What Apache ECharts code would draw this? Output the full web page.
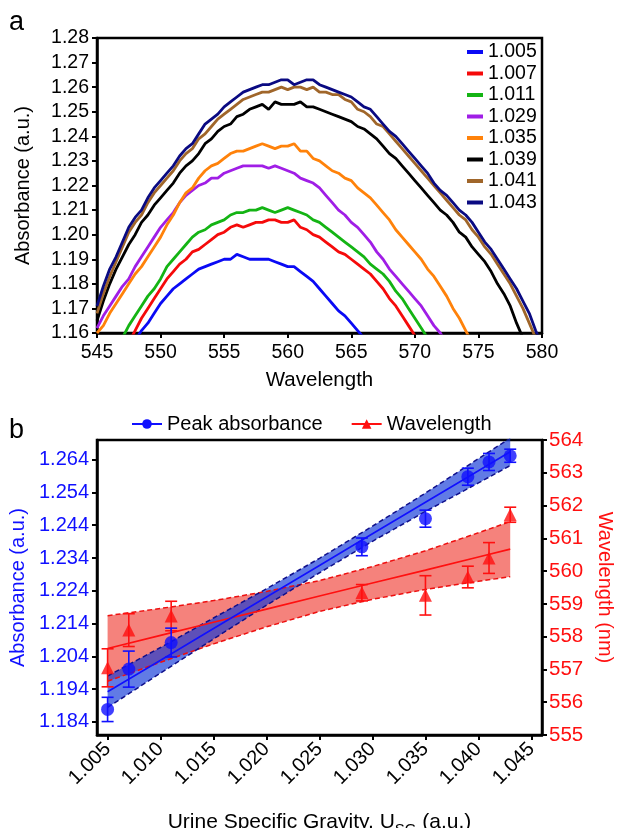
<!DOCTYPE html>
<html><head><meta charset="utf-8">
<script src="https://cdn.jsdelivr.net/npm/echarts@6/dist/echarts.min.js"></script>
<style>html,body{margin:0;padding:0;background:#fff}#c{width:618px;height:828px}</style>
</head><body><div id="c"></div>
<script>
// ---------- Panel a data (0.5 nm grid, 545..580) ----------
const wavelengths = Array.from({ length: 71 }, (_, i) => 545 + i * 0.5);
const sgNames = ['1.005','1.007','1.011','1.029','1.035','1.039','1.041','1.043'];
const abs1005 = [null,null,null,null,null,null,1.157,1.161,1.164,1.168,1.172,1.175,1.178,1.180,1.182,1.184,1.186,1.187,1.188,1.189,1.190,1.190,1.192,1.191,1.190,1.190,1.190,1.190,1.189,1.188,1.187,1.187,1.185,1.183,1.181,1.178,1.175,1.172,1.169,1.167,1.164,1.161,1.158];
const abs1007 = [null,null,null,null,null,1.156,1.161,1.166,1.170,1.174,1.178,1.182,1.185,1.188,1.190,1.193,1.194,1.196,1.198,1.200,1.201,1.203,1.204,1.203,1.204,1.205,1.205,1.206,1.206,1.205,1.205,1.206,1.203,1.202,1.200,1.199,1.197,1.195,1.193,1.192,1.190,1.188,1.186,1.184,1.181,1.178,1.174,1.171,1.167,1.163,1.159,1.155];
const abs1011 = [null,null,null,null,1.158,1.163,1.167,1.171,1.175,1.178,1.182,1.187,1.190,1.193,1.196,1.199,1.201,1.202,1.204,1.205,1.206,1.208,1.209,1.209,1.210,1.210,1.211,1.210,1.209,1.210,1.211,1.210,1.209,1.208,1.206,1.205,1.203,1.201,1.199,1.197,1.195,1.193,1.191,1.188,1.186,1.184,1.181,1.177,1.174,1.170,1.166,1.162,1.158,1.154];
const abs1029 = [1.162,1.167,1.171,1.175,1.179,1.182,1.187,1.191,1.195,1.199,1.203,1.206,1.209,1.213,1.216,1.218,1.220,1.221,1.223,1.223,1.225,1.226,1.227,1.228,1.228,1.228,1.228,1.227,1.228,1.227,1.226,1.225,1.223,1.222,1.221,1.219,1.216,1.213,1.210,1.208,1.205,1.203,1.200,1.197,1.193,1.190,1.186,1.183,1.180,1.177,1.174,1.171,1.167,1.163,1.160,1.156];
const abs1035 = [1.160,1.163,1.168,1.172,1.176,1.180,1.184,1.187,1.191,1.195,1.199,1.204,1.208,1.213,1.217,1.219,1.223,1.226,1.228,1.229,1.231,1.233,1.234,1.234,1.235,1.236,1.237,1.236,1.235,1.236,1.236,1.237,1.234,1.234,1.231,1.230,1.228,1.226,1.225,1.223,1.222,1.219,1.217,1.215,1.212,1.209,1.206,1.202,1.199,1.196,1.193,1.190,1.186,1.183,1.179,1.175,1.170,1.166,1.161,1.156];
const abs1039 = [1.165,1.173,1.180,1.186,1.191,1.196,1.200,1.205,1.208,1.212,1.215,1.218,1.221,1.225,1.228,1.230,1.233,1.237,1.239,1.242,1.244,1.245,1.248,1.249,1.251,1.252,1.253,1.251,1.254,1.253,1.253,1.253,1.254,1.252,1.252,1.251,1.250,1.249,1.248,1.247,1.246,1.244,1.243,1.241,1.239,1.236,1.233,1.231,1.228,1.225,1.222,1.219,1.216,1.213,1.210,1.208,1.205,1.201,1.199,1.195,1.192,1.189,1.185,1.180,1.176,1.171,1.164,1.158,1.150];
const abs1041 = [1.168,1.176,1.183,1.189,1.195,1.201,1.205,1.208,1.213,1.217,1.220,1.223,1.226,1.230,1.233,1.235,1.239,1.241,1.244,1.247,1.249,1.251,1.253,1.255,1.256,1.257,1.258,1.258,1.259,1.260,1.259,1.260,1.260,1.259,1.260,1.258,1.258,1.257,1.257,1.255,1.254,1.251,1.250,1.248,1.245,1.244,1.241,1.238,1.235,1.232,1.229,1.226,1.223,1.220,1.217,1.214,1.211,1.208,1.206,1.202,1.199,1.195,1.192,1.188,1.184,1.180,1.175,1.170,1.164,1.158,1.152];
const abs1043 = [1.171,1.179,1.186,1.191,1.197,1.203,1.207,1.210,1.215,1.219,1.222,1.225,1.228,1.232,1.235,1.237,1.241,1.245,1.247,1.249,1.252,1.254,1.256,1.258,1.259,1.260,1.261,1.261,1.262,1.263,1.263,1.261,1.262,1.263,1.263,1.261,1.260,1.259,1.258,1.257,1.256,1.254,1.252,1.251,1.248,1.245,1.242,1.240,1.237,1.234,1.231,1.228,1.225,1.221,1.218,1.216,1.213,1.210,1.208,1.205,1.201,1.197,1.194,1.190,1.186,1.182,1.178,1.173,1.168,1.161,1.155];
const curveColors = ['#0a0af5','#f50a0a','#14b414','#a01ee6','#ff820a','#000000','#a0662a','#0a0a82'];

// ---------- Panel b data ----------
const sgValues = [1.005,1.007,1.011,1.029,1.035,1.039,1.041,1.043];
const peakAbs = [1.1878,1.2001,1.2082,1.2374,1.2460,1.2588,1.2633,1.2652];
const peakAbsErr = [0.0037,0.0055,0.0044,0.0027,0.0026,0.0026,0.0026,0.0020];
const peakWl = [557.05,558.20,558.63,559.34,559.26,559.82,560.40,561.72];
const peakWlErr = [0.58,0.50,0.45,0.25,0.60,0.33,0.47,0.23];
const fitX = [1.005,1.010,1.015,1.020,1.025,1.030,1.035,1.040,1.043];
const absFit = [1.1932,1.2028,1.2125,1.2221,1.2317,1.2414,1.2510,1.2606,1.2664];
const absUpper = [1.1980,1.2067,1.2157,1.2246,1.2339,1.2437,1.2538,1.2643,1.2706];
const absLower = [1.1884,1.1989,1.2093,1.2196,1.2295,1.2391,1.2482,1.2569,1.2622];
const wlFit = [557.64,558.04,558.44,558.84,559.24,559.64,560.03,560.43,560.67];
const wlUpper = [558.64,558.86,559.10,559.38,559.71,560.14,560.62,561.17,561.51];
const wlLower = [556.64,557.22,557.78,558.30,558.77,559.14,559.44,559.69,559.83];
const sgTicks = [1.005,1.010,1.015,1.020,1.025,1.030,1.035,1.040,1.045];
const absTicks = [1.184,1.194,1.204,1.214,1.224,1.234,1.244,1.254,1.264];

const FONT = 'Liberation Sans, Arial, Helvetica, sans-serif';
const BLUE = '#1010ff', RED = '#ff1010';

const curves = [abs1005,abs1007,abs1011,abs1029,abs1035,abs1039,abs1041,abs1043];
const curveSeries = curves.map((vals, k) => ({
  name: sgNames[k], type: 'line', xAxisIndex: 0, yAxisIndex: 0,
  data: vals.map((v, i) => [wavelengths[i], v]).filter(p => p[0] != null && p[1] != null),
  symbol: 'none', color: curveColors[k], lineStyle: { width: 2.8, color: curveColors[k] },
  clip: true, animation: false
}));

function bandSeries(upper, lower, yIdx, fill, z) {
  return {
    type: 'custom', xAxisIndex: 1, yAxisIndex: yIdx, z: z, silent: true,
    data: fitX.map((x, i) => [x, lower[i], upper[i]]),
    encode: { x: 0, y: [1, 2] },
    renderItem: function (params, api) {
      if (params.dataIndex !== 0) return null;
      const pts = [];
      for (let i = 0; i < fitX.length; i++) pts.push(api.coord([fitX[i], upper[i]]));
      for (let i = fitX.length - 1; i >= 0; i--) pts.push(api.coord([fitX[i], lower[i]]));
      return { type: 'polygon', shape: { points: pts }, style: { fill: fill } };
    }
  };
}
function dashedSeries(vals, yIdx, color, z) {
  return { type: 'line', xAxisIndex: 1, yAxisIndex: yIdx, z: z, symbol: 'none', silent: true,
    data: fitX.map((x, i) => [x, vals[i]]),
    lineStyle: { type: [5, 3], width: 1.5, color: color }, animation: false };
}
function errSeries(means, errs, yIdx, color, z) {
  return {
    type: 'custom', xAxisIndex: 1, yAxisIndex: yIdx, z: z, silent: true,
    data: sgValues.map((x, i) => [x, means[i] - errs[i], means[i] + errs[i]]),
    encode: { x: 0, y: [1, 2] },
    renderItem: function (params, api) {
      const x = api.value(0);
      const lo = api.coord([x, api.value(1)]);
      const hi = api.coord([x, api.value(2)]);
      const w = 6;
      const st = { stroke: color, lineWidth: 1.6 };
      return { type: 'group', children: [
        { type: 'line', shape: { x1: lo[0], y1: lo[1], x2: hi[0], y2: hi[1] }, style: st },
        { type: 'line', shape: { x1: hi[0] - w, y1: hi[1], x2: hi[0] + w, y2: hi[1] }, style: st },
        { type: 'line', shape: { x1: lo[0] - w, y1: lo[1], x2: lo[0] + w, y2: lo[1] }, style: st }
      ] };
    }
  };
}

const axisLineBlack = { show: true, lineStyle: { color: '#000', width: 2.5 } };
const option = {
  animation: false,
  textStyle: { fontFamily: FONT },
  graphic: [
    { type: 'text', left: 9, top: 9, style: { text: 'a', font: '27px ' + FONT, fill: '#000' } },
    { type: 'text', left: 9, top: 417, style: { text: 'b', font: '27px ' + FONT, fill: '#000' } }
  ],
  legend: [
    { data: sgNames, orient: 'vertical', left: 462, top: 37, icon: 'rect', itemWidth: 16, itemHeight: 4,
      itemGap: 1.5, textStyle: { fontSize: 19.5, color: '#000', fontFamily: FONT }, selectedMode: false },
    { data: ['Peak absorbance', 'Wavelength'], left: 126, top: 409, itemWidth: 30, itemHeight: 12,
      itemGap: 28, textStyle: { fontSize: 20, color: '#000', fontFamily: FONT }, selectedMode: false }
  ],
  grid: [
    { left: 97, right: 76, top: 38, height: 295, show: true, borderColor: '#000', borderWidth: 2.5,
      outerBoundsMode: 'none', containLabel: false },
    { left: 97, right: 76, top: 440, height: 295, show: true, borderColor: '#000', borderWidth: 2.5,
      outerBoundsMode: 'none', containLabel: false }
  ],
  xAxis: [
    { type: 'value', gridIndex: 0, min: 545, max: 580, interval: 5,
      axisLine: axisLineBlack, axisTick: { show: true, length: 5, lineStyle: { color: '#000', width: 2 } },
      axisLabel: { fontSize: 19.5, color: '#000', margin: 10 }, splitLine: { show: false },
      name: 'Wavelength', nameLocation: 'middle', nameGap: 37,
      nameTextStyle: { fontSize: 20.5, color: '#000' } },
    { type: 'value', gridIndex: 1, min: 1.004, max: 1.046,
      axisLine: axisLineBlack,
      axisTick: { show: true, length: 5, lineStyle: { color: '#000', width: 2 }, customValues: sgTicks },
      axisLabel: { fontSize: 20, color: '#000', margin: 11, rotate: 45, customValues: sgTicks,
        formatter: v => v.toFixed(3) },
      splitLine: { show: false },
      name: '{a|Urine Specific Gravity, U}{s|SG}{a| (a.u.)}', nameLocation: 'middle', nameGap: 77,
      nameTextStyle: { rich: {
        a: { fontSize: 21, color: '#000', fontFamily: FONT, lineHeight: 21, verticalAlign: 'top' },
        s: { fontSize: 15, color: '#000', fontFamily: FONT, lineHeight: 15, verticalAlign: 'top', padding: [10, 0, 0, 0] }
      } } }
  ],
  yAxis: [
    { type: 'value', gridIndex: 0, min: 1.16, max: 1.28, interval: 0.01,
      axisLine: axisLineBlack, axisTick: { show: true, length: 5, lineStyle: { color: '#000', width: 2 } },
      axisLabel: { fontSize: 19.5, color: '#000', margin: 8, formatter: v => v.toFixed(2) },
      splitLine: { show: false },
      name: 'Absorbance (a.u.)', nameLocation: 'middle', nameGap: 64,
      nameTextStyle: { fontSize: 20, color: '#000' } },
    { type: 'value', gridIndex: 1, min: 1.18, max: 1.27, position: 'left',
      axisLine: axisLineBlack,
      axisTick: { show: true, length: 5, lineStyle: { color: '#000', width: 2 }, customValues: absTicks },
      axisLabel: { fontSize: 20, color: BLUE, margin: 8, customValues: absTicks, formatter: v => v.toFixed(3) },
      splitLine: { show: false },
      name: 'Absorbance (a.u.)', nameLocation: 'middle', nameGap: 62,
      nameTextStyle: { fontSize: 20, color: BLUE } },
    { type: 'value', gridIndex: 1, min: 555, max: 564, interval: 1, position: 'right',
      axisLine: axisLineBlack, axisTick: { show: true, length: 5, lineStyle: { color: '#000', width: 2 } },
      axisLabel: { fontSize: 20.5, color: RED, margin: 7 }, splitLine: { show: false },
      name: 'Wavelength (nm)', nameLocation: 'middle', nameGap: 52, nameRotate: -90,
      nameTextStyle: { fontSize: 20, color: RED } }
  ],
  series: [
    ...curveSeries,
    bandSeries(wlUpper, wlLower, 2, 'rgba(238,40,30,0.58)', 1),
    bandSeries(absUpper, absLower, 1, 'rgba(15,55,215,0.66)', 2),
    dashedSeries(wlUpper, 2, '#ee1010', 3),
    dashedSeries(wlLower, 2, '#ee1010', 3),
    dashedSeries(absUpper, 1, '#10108c', 3),
    dashedSeries(absLower, 1, '#10108c', 3),
    { name: 'Wavelength', type: 'line', xAxisIndex: 1, yAxisIndex: 2, z: 4, symbol: 'triangle', showSymbol: false,
      color: RED, data: fitX.map((x, i) => [x, wlFit[i]]), lineStyle: { width: 1.6, color: RED } },
    { name: 'Peak absorbance', type: 'line', xAxisIndex: 1, yAxisIndex: 1, z: 4, symbol: 'circle', showSymbol: false,
      color: BLUE, data: fitX.map((x, i) => [x, absFit[i]]), lineStyle: { width: 1.6, color: BLUE } },
    errSeries(peakWl, peakWlErr, 2, RED, 5),
    errSeries(peakAbs, peakAbsErr, 1, BLUE, 5),
    { name: 'wl-points', type: 'scatter', xAxisIndex: 1, yAxisIndex: 2, z: 6, symbol: 'triangle', symbolSize: 13,
      itemStyle: { color: RED }, data: sgValues.map((x, i) => [x, peakWl[i]]) },
    { name: 'abs-points', type: 'scatter', xAxisIndex: 1, yAxisIndex: 1, z: 6, symbol: 'circle', symbolSize: 13,
      itemStyle: { color: BLUE }, data: sgValues.map((x, i) => [x, peakAbs[i]]) }
  ]
};
const chart = echarts.init(document.getElementById('c'), null, { renderer: 'canvas' });
chart.setOption(option);
</script></body></html>
